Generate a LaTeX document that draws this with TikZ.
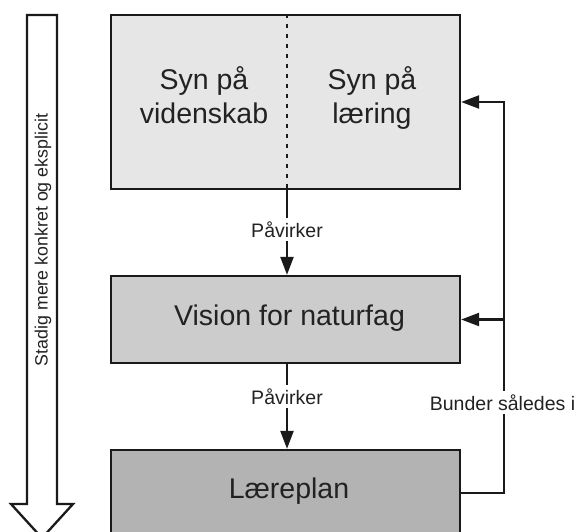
\documentclass[tikz,border=0pt]{standalone}
\usepackage{fontspec}
\setmainfont{Liberation Sans}
\usetikzlibrary{arrows.meta}

\definecolor{inkline}{HTML}{1A1A1A}
\definecolor{inktext}{HTML}{222222}
\definecolor{fillA}{HTML}{E6E6E6}
\definecolor{fillB}{HTML}{CCCCCC}
\definecolor{fillC}{HTML}{B3B3B3}

\tikzset{
  box/.style={draw=inkline, line width=2.3pt, rectangle, inner sep=0pt,
    minimum width=349pt},
  bigtxt/.style={text=inktext, inner sep=0pt, anchor=base,
    font=\fontsize{28.5}{34}\selectfont},
  smalltxt/.style={text=inktext, fill=white, inner sep=3.5pt, anchor=base,
    font=\fontsize{19.5}{23}\selectfont},
  conn/.style={draw=inkline, line width=2.3pt,
    -{Triangle[length=18pt,width=13pt]}},
}

\begin{document}
\begin{tikzpicture}[x=1pt, y=-1pt]
  \useasboundingbox (0,0) rectangle (578,531);
  \clip (0,0) rectangle (578,531);

  % the three levels
  \node[box, fill=fillA, minimum height=174pt] (syn) at (285.5,102) {};
  \node[box, fill=fillB, minimum height=87pt] (vis) at (285.5,319.5) {};
  \node[box, fill=fillC, minimum height=150pt] (laer) at (285.5,525) {};

  % dotted split of the top box
  \coordinate (mid) at (287,0);
  \draw[inkline, line width=2.3pt, dash pattern=on 4.5pt off 5.5pt]
    (syn.north -| mid) -- (syn.south -| mid);

  % box texts
  \node[bigtxt] (sv1) at (204,89) {Syn på};
  \node[bigtxt] (sv2) at (204,123) {videnskab};
  \node[bigtxt] (sl1) at (372,89) {Syn på};
  \node[bigtxt] (sl2) at (372,123) {læring};
  \node[bigtxt] (vt) at (289.5,325) {Vision for naturfag};
  \node[bigtxt] (lt) at (289,498) {Læreplan};

  % downward influence arrows
  \draw[conn] (syn.south -| mid) -- (vis.north -| mid);
  \node[smalltxt] (p1) at (287,237) {Påvirker};
  \draw[conn] (vis.south -| mid) -- (laer.north -| mid);
  \node[smalltxt] (p2) at (287,404) {Påvirker};

  % feedback rail on the right
  \coordinate (rail) at (504,0);
  \coordinate (fb) at (0,493);
  \draw[conn] (laer.east |- fb) -| (rail |- syn.east) -- (syn.east);
  \draw[conn] (rail |- vis.east) -- (vis.east);
  \node[smalltxt] (bund) at (502.5,410) {Bunder således i};

  % big hollow arrow on the left
  \draw[inkline, line width=2.3pt, fill=white, line join=miter]
    (27,15) -- (57,15) -- (57,504) -- (73,504) -- (42,538)
    -- (11,504) -- (27,504) -- cycle;
  \node[text=inktext, rotate=90, font=\fontsize{17.8}{21}\selectfont]
    (side) at (43,240) {Stadig mere konkret og eksplicit};
\end{tikzpicture}
\end{document}
